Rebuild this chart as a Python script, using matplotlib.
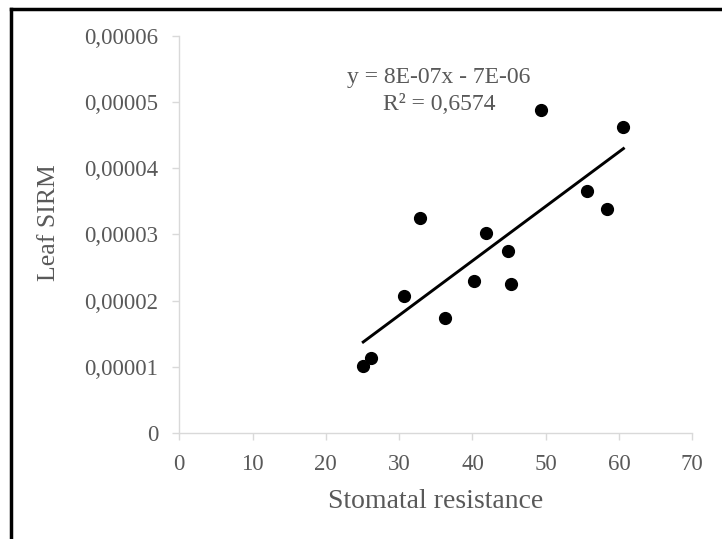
import numpy as np
import matplotlib.pyplot as plt
from matplotlib.lines import Line2D

# values
stomatal = [25.1, 26.2, 30.6, 32.8, 36.3, 40.2, 41.9, 44.8, 45.2, 49.4, 55.6, 58.4, 60.6]
sirm = [10.1e-6, 11.3e-6, 20.7e-6, 32.5e-6, 17.4e-6, 22.9e-6, 30.2e-6,
        27.5e-6, 22.5e-6, 48.8e-6, 36.5e-6, 33.9e-6, 46.3e-6]
x_ticks = [0, 10, 20, 30, 40, 50, 60, 70]
y_ticks = [0, 0.00001, 0.00002, 0.00003, 0.00004, 0.00005, 0.00006]
y_labels = ['0', '0,00001', '0,00002', '0,00003', '0,00004', '0,00005', '0,00006']
eq_text = 'y = 8E-07x - 7E-06'
r2_text = 'R² = 0,6574'

gray = '#595959'
plt.rcParams['font.family'] = ['Liberation Serif', 'DejaVu Serif']

fig = plt.figure(figsize=(7.22, 5.39), dpi=100)
ax = fig.add_axes([0.2483, 0.1967, 0.7106, 0.7365])

ax.plot(stomatal, sirm, 'o', color='black', markersize=8.5, zorder=3)

# linear trendline over the data range
slope, inter = np.polyfit(stomatal, sirm, 1)
xs = np.array([min(stomatal), max(stomatal)])
ax.plot(xs, slope * xs + inter, color='black', linewidth=2.1, zorder=2)

ax.set_xlim(0, 70)
ax.set_ylim(0, 0.00006)
ax.set_xticks(x_ticks)
ax.set_yticks(y_ticks)
ax.set_yticklabels(y_labels)
ax.tick_params(colors='#d9d9d9', labelcolor=gray, labelsize=16.5, length=5, width=1)
ax.tick_params(axis='y', pad=10)
ax.tick_params(axis='x', pad=10)
for side in ['top', 'right']:
    ax.spines[side].set_visible(False)
for side in ['left', 'bottom']:
    ax.spines[side].set_color('#d9d9d9')
    ax.spines[side].set_linewidth(1)

ax.set_xlabel('Stomatal resistance', fontsize=20, color=gray, labelpad=10)
ax.set_ylabel('Leaf SIRM', fontsize=18.5, color=gray)
ax.yaxis.set_label_coords(-0.232, 0.529)

fig.text(0.608, 0.846, eq_text, fontsize=17, color=gray, ha='center', va='baseline')
fig.text(0.608, 0.796, r2_text, fontsize=17, color=gray, ha='center', va='baseline')

# outer frame (only top and left edges show in the crop)
fig.add_artist(Line2D([11 / 722, 1], [1 - 9 / 539, 1 - 9 / 539], color='black', linewidth=2.5))
fig.add_artist(Line2D([11 / 722, 11 / 722], [0, 1 - 9 / 539], color='black', linewidth=2.5))

fig.savefig('out.png', dpi=100)
